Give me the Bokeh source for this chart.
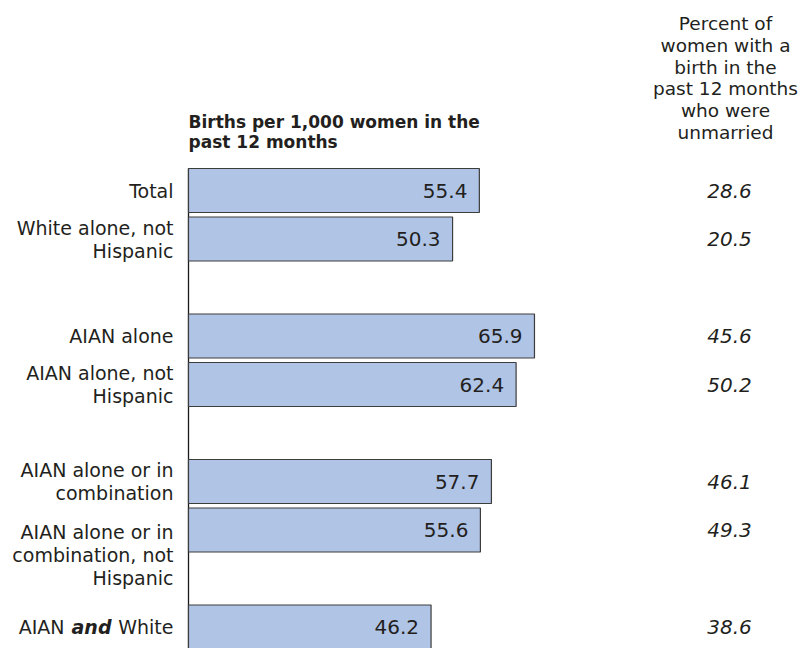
from bokeh.plotting import figure
from bokeh.models import Range1d, ColumnDataSource
from bokeh.embed import file_html
from bokeh.resources import INLINE
from bokeh.core.properties import value

# ---- data ----
labels = [
    "Total",
    "White alone, not\nHispanic",
    "AIAN alone",
    "AIAN alone, not\nHispanic",
    "AIAN alone or in\ncombination",
    "AIAN alone or in\ncombination, not\nHispanic",
    "AIAN and White",
]
groups = [0, 0, 1, 1, 2, 2, 3]
births = [55.4, 50.3, 65.9, 62.4, 57.7, 55.6, 46.2]
unmarried = [28.6, 20.5, 45.6, 50.2, 46.1, 49.3, 38.6]
births_header = "Births per 1,000 women in the\npast 12 months"
unmarried_header = "Percent of\nwomen with a\nbirth in the\npast 12 months\nwho were\nunmarried"
emphasis = {"AIAN and White": "and"}

# ---- layout constants ----
W, H = 804, 648
PX_PER_UNIT = 5.25
X0_PX = 188
SLOT_PX = 48.5
Y0_PX = 190
BAR_H = 0.907
LINE_PX = 23
FONT = "DejaVu Sans"
TXT = "#231f20"

pos = [i + g for i, g in enumerate(groups)]

x_range = Range1d(-X0_PX / PX_PER_UNIT, (W - X0_PX) / PX_PER_UNIT)
y_range = Range1d(start=(H - Y0_PX) / SLOT_PX, end=-Y0_PX / SLOT_PX)


def px_to_x(px):
    return (px - X0_PX) / PX_PER_UNIT


def px_to_y(py):
    return (py - Y0_PX) / SLOT_PX


p = figure(width=W, height=H, x_range=x_range, y_range=y_range,
           output_backend="svg", toolbar_location=None, min_border=0,
           x_axis_location=None, y_axis_location=None)
p.grid.visible = False
p.outline_line_color = None
p.background_fill_color = "white"
p.border_fill_color = "white"

# explode multi-line labels into single lines
lt, lp, lo = [], [], []
for lab, y in zip(labels, pos):
    if lab in emphasis:
        continue
    lines = lab.split("\n")
    n = len(lines)
    first = -(n - 1) / 2 * LINE_PX if n <= 2 else 2
    for j, line in enumerate(lines):
        lt.append(line)
        lp.append(y)
        lo.append(first + j * LINE_PX)

src = ColumnDataSource(dict(
    pos=pos, births=births,
    births_txt=[f"{v:.1f}" for v in births],
    unm_txt=[f"{v:.1f}" for v in unmarried],
))
lab_src = ColumnDataSource(dict(pos=lp, text=lt, off=lo))

# axis line
p.segment(x0=0, y0=pos[0] - BAR_H / 2, x1=0, y1=y_range.start,
          line_color="#1a1a1a", line_width=1.3)

# bars
p.hbar(y="pos", left=0, right="births", height=BAR_H, source=src,
       fill_color="#b0c4e6", line_color="#3c3c3c", line_width=1.2)

# values inside bars
p.text(x="births", y="pos", text="births_txt", source=src, x_offset=-12,
       text_align="right", text_baseline="middle",
       text_font=value(FONT), text_font_size="20px", text_color=TXT)

# left labels
p.text(x=0, y="pos", text="text", source=lab_src, x_offset=-15, y_offset="off",
       text_align="right", text_baseline="middle",
       text_font=value(FONT), text_font_size="19px", text_color=TXT)

# emphasised label
for lab, y in zip(labels, pos):
    if lab not in emphasis:
        continue
    word = emphasis[lab]
    before, after = lab.split(" " + word + " ")
    p.text(x=[0], y=[y], text=[after], x_offset=-15, text_align="right",
           text_baseline="middle", text_font=value(FONT), text_font_size="19px",
           text_color=TXT)
    p.text(x=[0], y=[y], text=[word], x_offset=-77, text_align="right",
           text_baseline="middle", text_font=value(FONT), text_font_size="19px",
           text_font_style="bold italic", text_color=TXT)
    p.text(x=[0], y=[y], text=[before], x_offset=-124, text_align="right",
           text_baseline="middle", text_font=value(FONT), text_font_size="19px",
           text_color=TXT)

# right column values
p.text(x=px_to_x(729), y="pos", text="unm_txt", source=src,
       text_align="center", text_baseline="middle",
       text_font=value(FONT), text_font_size="20px", text_font_style="italic",
       text_color=TXT)

# headers (one glyph per line)
rh = unmarried_header.split("\n")
p.text(x=[px_to_x(725)] * len(rh), y=[px_to_y(23)] * len(rh), text=rh,
       y_offset=[j * 21.8 for j in range(len(rh))],
       text_align="center", text_baseline="middle",
       text_font=value(FONT), text_font_size="18.5px", text_color=TXT)
lh = births_header.split("\n")
p.text(x=[0] * len(lh), y=[px_to_y(121)] * len(lh), text=lh,
       y_offset=[j * 20 for j in range(len(lh))],
       text_align="left", text_baseline="middle",
       text_font=value(FONT), text_font_size="17px", text_font_style="bold",
       text_color=TXT)

open("out.html", "w").write(file_html(p, INLINE))
